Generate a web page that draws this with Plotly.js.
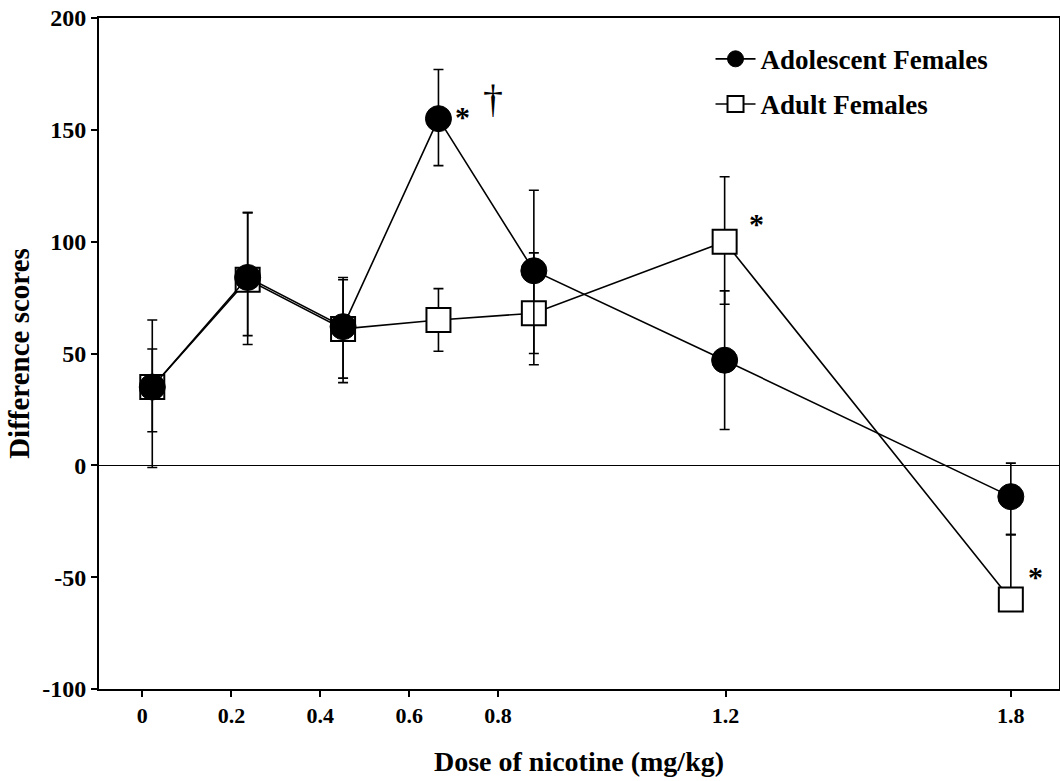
<!DOCTYPE html>
<html>
<head>
<meta charset="utf-8">
<script src="https://cdn.plot.ly/plotly-3.0.1.min.js"></script>
<style>html,body{margin:0;padding:0;background:#fff;}#chart{width:1060px;height:781px;}</style>
</head>
<body>
<div id="chart"></div>
<script>
// Dose levels (mg/kg)
const doses = [0, 0.2, 0.4, 0.6, 0.8, 1.2, 1.8];
// Tick labels and where the original figure printed them along the axis
const doseLabels = ["0", "0.2", "0.4", "0.6", "0.8", "1.2", "1.8"];
const doseTickPos = [-0.021, 0.166, 0.352, 0.539, 0.725, 1.202, 1.8];

// Y tick values / labels (plain hyphen as in the original)
const yTickVals = [-100, -50, 0, 50, 100, 150, 200];
const yTickText = ["-100", "-50", "0", "50", "100", "150", "200"];

// Adolescent Females
const adolMean = [35, 84, 62, 155, 87, 47, -14];
const adolErrUp = [17, 29, 22, 22, 36, 31, 15];
const adolErrDown = [20, 26, 23, 21, 37, 31, 17];

// Adult Females
const adultMean = [35, 83, 61, 65, 68, 100, -60];
const adultErrUp = [30, 30, 22, 14, 27, 29, 29];
const adultErrDown = [36, 29, 24, 14, 23, 28, 0];

const FONT = "Liberation Serif, Times New Roman, serif";

const adult = {
  x: doses, y: adultMean, name: "Adult Females", type: "scatter", mode: "lines+markers",
  legendrank: 2, legendgroup: "b",
  line: {color: "#000", width: 1.6},
  marker: {symbol: "square", size: 24, color: "#fff", line: {color: "#000", width: 2}},
  error_y: {type: "data", symmetric: false, array: adultErrUp, arrayminus: adultErrDown,
            color: "#000", thickness: 1.6, width: 5},
  cliponaxis: false
};
const adol = {
  x: doses, y: adolMean, name: "Adolescent Females", type: "scatter", mode: "lines+markers",
  legendrank: 1, legendgroup: "a",
  line: {color: "#000", width: 1.6},
  marker: {symbol: "circle", size: 26, color: "#000", line: {color: "#000", width: 1}},
  error_y: {type: "data", symmetric: false, array: adolErrUp, arrayminus: adolErrDown,
            color: "#000", thickness: 1.6, width: 5},
  cliponaxis: false
};

const layout = {
  width: 1060, height: 781,
  margin: {l: 99, r: 1, t: 18, b: 92},
  paper_bgcolor: "#fff", plot_bgcolor: "#fff",
  font: {family: FONT, size: 21, color: "#000", weight: 700},
  showlegend: true,
  legend: {x: 0.637, y: 0.975, xanchor: "left", yanchor: "top",
           font: {family: FONT, size: 27, color: "#000", weight: 700},
           traceorder: "grouped", tracegroupgap: 7, bgcolor: "rgba(0,0,0,0)", itemwidth: 40},
  xaxis: {
    range: [-0.1117, 1.901], tickmode: "array", tickvals: doseTickPos, ticktext: doseLabels,
    showgrid: false, zeroline: false, showline: true, linecolor: "#000", linewidth: 2,
    mirror: true, ticks: "outside", ticklen: 6, tickwidth: 2, tickcolor: "#000",
    tickfont: {family: FONT, size: 22, weight: 700},
    title: {text: "Dose of nicotine (mg/kg)", font: {family: FONT, size: 28, weight: 700}, standoff: 24}
  },
  yaxis: {
    range: [-100, 200], tickmode: "array", tickvals: yTickVals, ticktext: yTickText,
    showgrid: false, zeroline: true, zerolinecolor: "#000", zerolinewidth: 1.6,
    showline: true, linecolor: "#000", linewidth: 2, mirror: true,
    ticks: "outside", ticklen: 6, tickwidth: 2, tickcolor: "#000",
    tickfont: {family: FONT, size: 24, weight: 700},
    title: {text: "Difference scores", font: {family: FONT, size: 29, weight: 700}, standoff: 4}
  },
  annotations: [
    {x: 0.651, y: 156, xref: "x", yref: "y", text: "*", showarrow: false, font: {family: FONT, size: 30, weight: 700}},
    {x: 0.714, y: 164, xref: "x", yref: "y", text: "†", showarrow: false, font: {family: FONT, size: 40, weight: 400}},
    {x: 1.266, y: 108, xref: "x", yref: "y", text: "*", showarrow: false, font: {family: FONT, size: 30, weight: 700}},
    {x: 1.851, y: -49.5, xref: "x", yref: "y", text: "*", showarrow: false, font: {family: FONT, size: 30, weight: 700}}
  ]
};

Plotly.newPlot("chart", [adult, adol], layout, {displayModeBar: false, staticPlot: true});
</script>
</body>
</html>
